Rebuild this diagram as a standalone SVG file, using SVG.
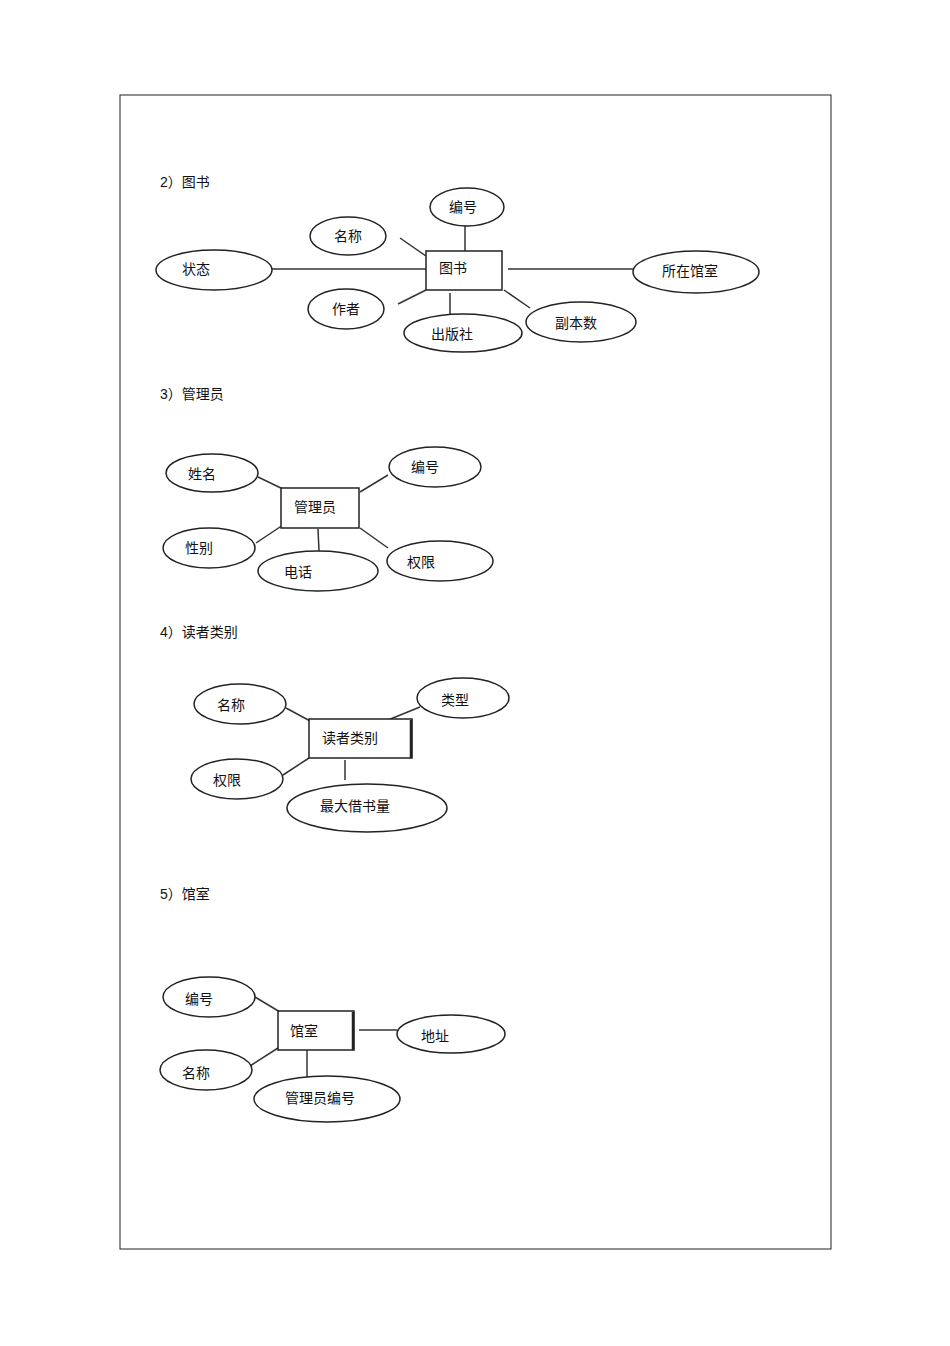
<svg xmlns="http://www.w3.org/2000/svg" width="950" height="1346" viewBox="0 0 950 1346">
<style>
text{font-family:"Liberation Sans","Noto Sans CJK SC",sans-serif;font-size:14px;fill:#111}
.n text{text-anchor:middle;dominant-baseline:central}
ellipse,rect.e{fill:#fff;stroke:#222;stroke-width:1.5}
#c line{stroke:#333;stroke-width:1.5}
</style>
<rect x="120" y="95" width="711" height="1154" fill="none" stroke="#222" stroke-width="1"/>
<text x="160" y="187">2）图书</text>
<text x="160" y="399">3）管理员</text>
<text x="160" y="637">4）读者类别</text>
<text x="160" y="899">5）馆室</text>
<g id="c">
<line x1="465" y1="226" x2="465" y2="251"/><line x1="400" y1="238" x2="426" y2="256"/>
<line x1="272" y1="269" x2="426" y2="269"/><line x1="508" y1="269" x2="633" y2="269"/>
<line x1="398" y1="304" x2="426" y2="290"/><line x1="450" y1="293" x2="450" y2="314"/>
<line x1="504" y1="290" x2="530" y2="308"/>
<line x1="258" y1="477" x2="285" y2="490"/><line x1="388" y1="475" x2="360" y2="492"/>
<line x1="256" y1="543" x2="283" y2="525"/><line x1="318" y1="529" x2="319" y2="551"/>
<line x1="360" y1="528" x2="388" y2="548"/>
<line x1="286" y1="708" x2="312" y2="722"/><line x1="420" y1="707" x2="388" y2="720"/>
<line x1="283" y1="775" x2="309" y2="758"/><line x1="345" y1="760" x2="345" y2="780"/>
<line x1="255" y1="997" x2="280" y2="1012"/><line x1="359" y1="1030" x2="397" y2="1030"/>
<line x1="250" y1="1066" x2="278" y2="1048"/><line x1="307" y1="1050" x2="307" y2="1077"/>
</g>
<g id="n-tushu" class="n"><rect class="e" x="426" y="251" width="76" height="39"/><text x="453" y="268">图书</text></g>
<g id="n-bh1" class="n"><ellipse cx="467" cy="207" rx="37" ry="19"/><text x="463" y="207">编号</text></g>
<g id="n-mc1" class="n"><ellipse cx="348" cy="236" rx="38" ry="19"/><text x="348" y="236">名称</text></g>
<g id="n-zt" class="n"><ellipse cx="214" cy="270" rx="58" ry="20"/><text x="196" y="269">状态</text></g>
<g id="n-szgs" class="n"><ellipse cx="696" cy="272" rx="63" ry="21"/><text x="690" y="271">所在馆室</text></g>
<g id="n-zz" class="n"><ellipse cx="346" cy="309" rx="38" ry="20"/><text x="346" y="309">作者</text></g>
<g id="n-cbs" class="n"><ellipse cx="463" cy="333" rx="59" ry="19"/><text x="452" y="334">出版社</text></g>
<g id="n-fbs" class="n"><ellipse cx="581" cy="322" rx="55" ry="20"/><text x="576" y="323">副本数</text></g>
<g id="n-gly" class="n"><rect class="e" x="281" y="488" width="78" height="40"/><text x="315" y="507">管理员</text></g>
<g id="n-xm" class="n"><ellipse cx="212" cy="473" rx="46" ry="19"/><text x="202" y="474">姓名</text></g>
<g id="n-bh2" class="n"><ellipse cx="435" cy="467" rx="46" ry="20"/><text x="425" y="467">编号</text></g>
<g id="n-xb" class="n"><ellipse cx="209" cy="548" rx="46" ry="20"/><text x="199" y="548">性别</text></g>
<g id="n-dh" class="n"><ellipse cx="318" cy="571" rx="60" ry="20"/><text x="298" y="572">电话</text></g>
<g id="n-qx1" class="n"><ellipse cx="440" cy="561" rx="53" ry="20"/><text x="421" y="562">权限</text></g>
<g id="n-dzlb" class="n"><rect class="e" x="309" y="719" width="103" height="39"/><line x1="411" y1="720" x2="411" y2="758" stroke="#222" stroke-width="2.5"/><text x="350" y="738">读者类别</text></g>
<g id="n-mc2" class="n"><ellipse cx="240" cy="704" rx="46" ry="20"/><text x="231" y="705">名称</text></g>
<g id="n-lx" class="n"><ellipse cx="463" cy="698" rx="46" ry="20"/><text x="455" y="700">类型</text></g>
<g id="n-qx2" class="n"><ellipse cx="237" cy="779" rx="46" ry="20"/><text x="227" y="780">权限</text></g>
<g id="n-zdjsl" class="n"><ellipse cx="367" cy="808" rx="80" ry="24"/><text x="355" y="806">最大借书量</text></g>
<g id="n-gs" class="n"><rect class="e" x="278" y="1011" width="76" height="39"/><line x1="353" y1="1012" x2="353" y2="1050" stroke="#222" stroke-width="2.5"/><text x="304" y="1031">馆室</text></g>
<g id="n-bh3" class="n"><ellipse cx="209" cy="997" rx="46" ry="20"/><text x="199" y="999">编号</text></g>
<g id="n-dz" class="n"><ellipse cx="451" cy="1034" rx="54" ry="19"/><text x="435" y="1036">地址</text></g>
<g id="n-mc3" class="n"><ellipse cx="206" cy="1070" rx="46" ry="20"/><text x="196" y="1073">名称</text></g>
<g id="n-glybh" class="n"><ellipse cx="327" cy="1099" rx="73" ry="23"/><text x="320" y="1098">管理员编号</text></g>
</svg>
